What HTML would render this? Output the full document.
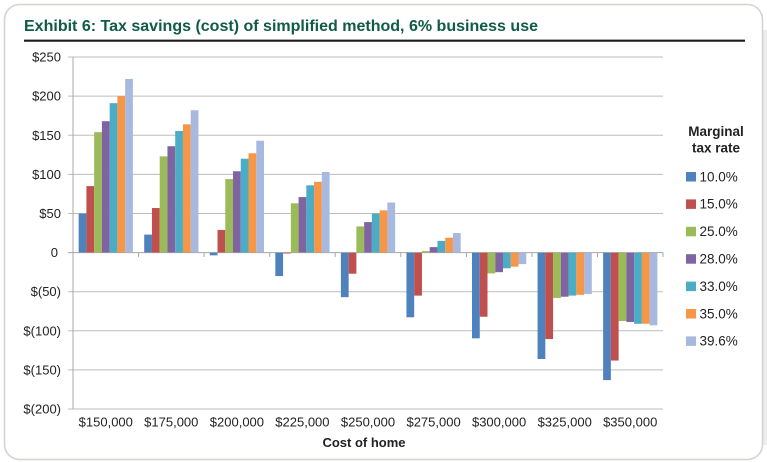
<!DOCTYPE html>
<html>
<head>
<meta charset="utf-8">
<style>
html,body{margin:0;padding:0;background:#fff;}
svg{display:block;}
text{font-family:"Liberation Sans",Arial,sans-serif;}
</style>
</head>
<body>
<svg width="767" height="462" viewBox="0 0 767 462" xmlns="http://www.w3.org/2000/svg">
  <rect x="0" y="0" width="767" height="462" fill="#ffffff"/>
  <rect x="762.5" y="30" width="4.5" height="415" fill="#ececec"/>
  <rect x="4.5" y="4.5" width="758" height="455" rx="15" ry="15" fill="#ffffff" stroke="#d3d3cf" stroke-width="1.6"/>

  <!-- Title -->
  <text x="24" y="31" font-size="16" font-weight="bold" fill="#0f5b46" textLength="514" lengthAdjust="spacingAndGlyphs">Exhibit 6: Tax savings (cost) of simplified method, 6% business use</text>
  <line x1="24" y1="40.7" x2="745" y2="40.7" stroke="#1b1b1b" stroke-width="2.2"/>

  <!-- Gridlines -->
  <g stroke="#bdbdbd" stroke-width="1">
    <line x1="68" y1="57" x2="663" y2="57"/>
    <line x1="68" y1="96.1" x2="663" y2="96.1"/>
    <line x1="68" y1="135.3" x2="663" y2="135.3"/>
    <line x1="68" y1="174.4" x2="663" y2="174.4"/>
    <line x1="68" y1="213.5" x2="663" y2="213.5"/>
    <line x1="68" y1="291.7" x2="663" y2="291.7"/>
    <line x1="68" y1="330.8" x2="663" y2="330.8"/>
    <line x1="68" y1="369.9" x2="663" y2="369.9"/>
    <line x1="68" y1="409" x2="663" y2="409"/>
  </g>

  <!-- Axes -->
  <g stroke="#a8a8a8" stroke-width="1">
    <line x1="73" y1="57" x2="73" y2="409"/>
    <line x1="68" y1="252.6" x2="663" y2="252.6"/>
    <line x1="73" y1="252.6" x2="73" y2="257"/>
    <line x1="138.6" y1="252.6" x2="138.6" y2="257"/>
    <line x1="204.1" y1="252.6" x2="204.1" y2="257"/>
    <line x1="269.7" y1="252.6" x2="269.7" y2="257"/>
    <line x1="335.2" y1="252.6" x2="335.2" y2="257"/>
    <line x1="400.8" y1="252.6" x2="400.8" y2="257"/>
    <line x1="466.4" y1="252.6" x2="466.4" y2="257"/>
    <line x1="531.9" y1="252.6" x2="531.9" y2="257"/>
    <line x1="597.5" y1="252.6" x2="597.5" y2="257"/>
    <line x1="663" y1="252.6" x2="663" y2="257"/>
  </g>

  <!-- Y labels -->
  <g font-size="13" fill="#222" text-anchor="end">
    <text x="61" y="61.5">$250</text>
    <text x="61" y="100.6">$200</text>
    <text x="61" y="139.8">$150</text>
    <text x="61" y="178.9">$100</text>
    <text x="61" y="218">$50</text>
    <text x="58" y="257.1">0</text>
    <text x="61" y="296.2">$(50)</text>
    <text x="61" y="335.3">$(100)</text>
    <text x="61" y="374.4">$(150)</text>
    <text x="61" y="413.5">$(200)</text>
  </g>

  <!-- X labels -->
  <g font-size="13" fill="#222" text-anchor="middle">
    <text x="105.8" y="426.5">$150,000</text>
    <text x="171.3" y="426.5">$175,000</text>
    <text x="236.9" y="426.5">$200,000</text>
    <text x="302.4" y="426.5">$225,000</text>
    <text x="368" y="426.5">$250,000</text>
    <text x="433.6" y="426.5">$275,000</text>
    <text x="499.1" y="426.5">$300,000</text>
    <text x="564.7" y="426.5">$325,000</text>
    <text x="630.2" y="426.5">$350,000</text>
  </g>
  <text x="364" y="447" font-size="13" font-weight="bold" fill="#222" text-anchor="middle">Cost of home</text>

  <!-- Legend -->
  <g font-size="13.5" font-weight="bold" fill="#222" text-anchor="middle">
    <text x="716" y="136">Marginal</text>
    <text x="716" y="152.5">tax rate</text>
  </g>
  <g font-size="13.5" fill="#222">
    <rect x="686" y="172" width="10" height="9.5" fill="#4f81bd"/><text x="699.5" y="181.3">10.0%</text>
    <rect x="686" y="199.4" width="10" height="9.5" fill="#c0504d"/><text x="699.5" y="208.7">15.0%</text>
    <rect x="686" y="226.8" width="10" height="9.5" fill="#9bbb59"/><text x="699.5" y="236.1">25.0%</text>
    <rect x="686" y="254.2" width="10" height="9.5" fill="#8064a2"/><text x="699.5" y="263.5">28.0%</text>
    <rect x="686" y="281.6" width="10" height="9.5" fill="#4bacc6"/><text x="699.5" y="290.9">33.0%</text>
    <rect x="686" y="309" width="10" height="9.5" fill="#f79646"/><text x="699.5" y="318.3">35.0%</text>
    <rect x="686" y="336.4" width="10" height="9.5" fill="#a7b9df"/><text x="699.5" y="345.7">39.6%</text>
  </g>

  <!-- Bars -->
  <g>
    <!-- g1 -->
    <rect x="78.65" y="213.49" width="7.75" height="39.11" fill="#4f81bd"/>
    <rect x="86.4" y="186.11" width="7.75" height="66.49" fill="#c0504d"/>
    <rect x="94.15" y="132.14" width="7.75" height="120.46" fill="#9bbb59"/>
    <rect x="101.9" y="121.19" width="7.75" height="131.41" fill="#8064a2"/>
    <rect x="109.65" y="103.20" width="7.75" height="149.40" fill="#4bacc6"/>
    <rect x="117.4" y="96.16" width="7.75" height="156.44" fill="#f79646"/>
    <rect x="125.15" y="78.95" width="7.75" height="173.65" fill="#a7b9df"/>
    <!-- g2 -->
    <rect x="144.21" y="234.61" width="7.75" height="17.99" fill="#4f81bd"/>
    <rect x="151.96" y="208.02" width="7.75" height="44.58" fill="#c0504d"/>
    <rect x="159.71" y="156.39" width="7.75" height="96.21" fill="#9bbb59"/>
    <rect x="167.46" y="146.22" width="7.75" height="106.38" fill="#8064a2"/>
    <rect x="175.21" y="130.97" width="7.75" height="121.63" fill="#4bacc6"/>
    <rect x="182.96" y="124.32" width="7.75" height="128.28" fill="#f79646"/>
    <rect x="190.71" y="110.24" width="7.75" height="142.36" fill="#a7b9df"/>
    <!-- g3 -->
    <rect x="209.77" y="252.6" width="7.75" height="2.74" fill="#4f81bd"/>
    <rect x="217.52" y="229.92" width="7.75" height="22.68" fill="#c0504d"/>
    <rect x="225.27" y="179.07" width="7.75" height="73.53" fill="#9bbb59"/>
    <rect x="233.02" y="171.25" width="7.75" height="81.35" fill="#8064a2"/>
    <rect x="240.77" y="158.74" width="7.75" height="93.86" fill="#4bacc6"/>
    <rect x="248.52" y="153.26" width="7.75" height="99.34" fill="#f79646"/>
    <rect x="256.27" y="140.75" width="7.75" height="111.85" fill="#a7b9df"/>
    <!-- g4 -->
    <rect x="275.33" y="252.6" width="7.75" height="23.47" fill="#4f81bd"/>
    <rect x="283.08" y="252.6" width="7.75" height="0.9" fill="#c0504d"/>
    <rect x="290.83" y="203.32" width="7.75" height="49.28" fill="#9bbb59"/>
    <rect x="298.58" y="197.06" width="7.75" height="55.54" fill="#8064a2"/>
    <rect x="306.33" y="185.33" width="7.75" height="67.27" fill="#4bacc6"/>
    <rect x="314.08" y="181.81" width="7.75" height="70.79" fill="#f79646"/>
    <rect x="321.83" y="172.03" width="7.75" height="80.57" fill="#a7b9df"/>
    <!-- g5 -->
    <rect x="340.89" y="252.6" width="7.75" height="44.59" fill="#4f81bd"/>
    <rect x="348.64" y="252.6" width="7.75" height="21.12" fill="#c0504d"/>
    <rect x="356.39" y="226.40" width="7.75" height="26.20" fill="#9bbb59"/>
    <rect x="364.14" y="222.09" width="7.75" height="30.51" fill="#8064a2"/>
    <rect x="371.89" y="213.49" width="7.75" height="39.11" fill="#4bacc6"/>
    <rect x="379.64" y="210.36" width="7.75" height="42.24" fill="#f79646"/>
    <rect x="387.39" y="202.54" width="7.75" height="50.06" fill="#a7b9df"/>
    <!-- g6 -->
    <rect x="406.45" y="252.6" width="7.75" height="64.69" fill="#4f81bd"/>
    <rect x="414.2" y="252.6" width="7.75" height="43.02" fill="#c0504d"/>
    <rect x="421.95" y="251.04" width="7.75" height="1.56" fill="#9bbb59"/>
    <rect x="429.7" y="247.12" width="7.75" height="5.48" fill="#8064a2"/>
    <rect x="437.45" y="240.87" width="7.75" height="11.73" fill="#4bacc6"/>
    <rect x="445.2" y="237.74" width="7.75" height="14.86" fill="#f79646"/>
    <rect x="452.95" y="233.04" width="7.75" height="19.56" fill="#a7b9df"/>
    <!-- g7 -->
    <rect x="472.01" y="252.6" width="7.75" height="85.73" fill="#4f81bd"/>
    <rect x="479.76" y="252.6" width="7.75" height="64.14" fill="#c0504d"/>
    <rect x="487.51" y="252.6" width="7.75" height="20.81" fill="#9bbb59"/>
    <rect x="495.26" y="252.6" width="7.75" height="19.56" fill="#8064a2"/>
    <rect x="503.01" y="252.6" width="7.75" height="15.64" fill="#4bacc6"/>
    <rect x="510.76" y="252.6" width="7.75" height="14.08" fill="#f79646"/>
    <rect x="518.51" y="252.6" width="7.75" height="11.50" fill="#a7b9df"/>
    <!-- g8 -->
    <rect x="537.57" y="252.6" width="7.75" height="106.38" fill="#4f81bd"/>
    <rect x="545.32" y="252.6" width="7.75" height="86.43" fill="#c0504d"/>
    <rect x="553.07" y="252.6" width="7.75" height="45.37" fill="#9bbb59"/>
    <rect x="560.82" y="252.6" width="7.75" height="44.12" fill="#8064a2"/>
    <rect x="568.57" y="252.6" width="7.75" height="43.02" fill="#4bacc6"/>
    <rect x="576.32" y="252.6" width="7.75" height="42.24" fill="#f79646"/>
    <rect x="584.07" y="252.6" width="7.75" height="41.46" fill="#a7b9df"/>
    <!-- g9 -->
    <rect x="603.13" y="252.6" width="7.75" height="127.50" fill="#4f81bd"/>
    <rect x="610.88" y="252.6" width="7.75" height="107.94" fill="#c0504d"/>
    <rect x="618.63" y="252.6" width="7.75" height="68.44" fill="#9bbb59"/>
    <rect x="626.38" y="252.6" width="7.75" height="69.38" fill="#8064a2"/>
    <rect x="634.13" y="252.6" width="7.75" height="71.18" fill="#4bacc6"/>
    <rect x="641.88" y="252.6" width="7.75" height="71.18" fill="#f79646"/>
    <rect x="649.63" y="252.6" width="7.75" height="72.74" fill="#a7b9df"/>
  </g>
  <line x1="73" y1="252.6" x2="663" y2="252.6" stroke="#a8a8a8" stroke-width="0.6" opacity="0.5"/>
</svg>
</body>
</html>
